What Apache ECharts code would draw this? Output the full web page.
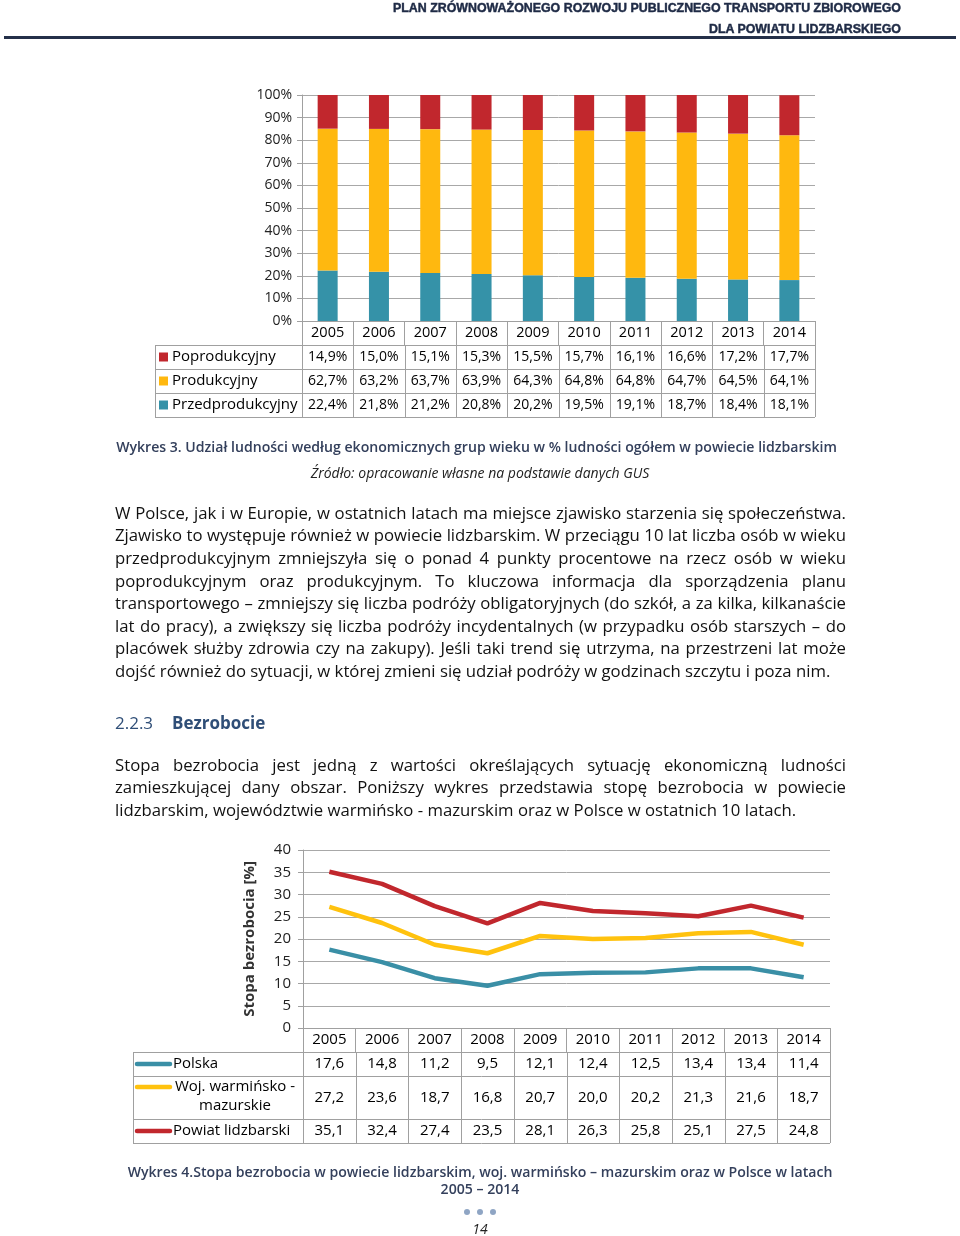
<!DOCTYPE html>
<html><head><meta charset="utf-8">
<script src="https://cdn.jsdelivr.net/npm/echarts@6/dist/echarts.min.js"></script>
<style>
html,body{margin:0;padding:0;background:#fff;}
#page{position:relative;width:960px;height:1236px;overflow:hidden;font-family:"Open Sans","DejaVu Sans",sans-serif;}
#chart{position:absolute;left:0;top:0;width:960px;height:1236px;}
.t{position:absolute;color:#000;white-space:nowrap;}
.j{position:absolute;left:115px;width:731px;text-align:justify;text-align-last:justify;font-size:14.6px;line-height:22.6px;height:22.6px;color:#111;}
.j.l{text-align-last:left;}
.hdr{position:absolute;right:59px;font-family:"Liberation Sans",Arial,sans-serif;font-weight:900;font-size:12.4px;color:#1F2B46;white-space:nowrap;-webkit-text-stroke:0.45px #1F2B46;}
.cap{font-weight:600;font-size:14.1px;color:#34405C;}
</style></head>
<body>
<div id="page">
<div id="chart"></div>
<div class="hdr" style="top:0px;line-height:16px;">PLAN ZRÓWNOWAŻONEGO ROZWOJU PUBLICZNEGO TRANSPORTU ZBIOROWEGO</div>
<div class="hdr" style="top:21px;line-height:16px;">DLA POWIATU LIDZBARSKIEGO</div>
<div style="position:absolute;left:4px;top:36px;width:952px;height:3px;background:#243049;"></div>

<div class="t cap" style="left:115px;width:723px;text-align:center;top:437px;line-height:20px;">Wykres 3. Udział ludności według ekonomicznych grup wieku w % ludności ogółem w powiecie lidzbarskim</div>
<div class="t" style="left:0;width:960px;text-align:center;top:463px;line-height:20px;font-style:italic;font-size:14px;color:#222;">Źródło: opracowanie własne na podstawie danych GUS</div>

<div class="j" style="top:501.7px;">W Polsce, jak i w Europie, w ostatnich latach ma miejsce zjawisko starzenia się społeczeństwa.</div>
<div class="j" style="top:524.3px;">Zjawisko to występuje również w powiecie lidzbarskim. W przeciągu 10 lat liczba osób w wieku</div>
<div class="j" style="top:546.9px;">przedprodukcyjnym zmniejszyła się o ponad 4 punkty procentowe na rzecz osób w wieku</div>
<div class="j" style="top:569.5px;">poprodukcyjnym oraz produkcyjnym. To kluczowa informacja dla sporządzenia planu</div>
<div class="j" style="top:592.1px;">transportowego – zmniejszy się liczba podróży obligatoryjnych (do szkół, a za kilka, kilkanaście</div>
<div class="j" style="top:614.7px;">lat do pracy), a zwiększy się liczba podróży incydentalnych (w przypadku osób starszych – do</div>
<div class="j" style="top:637.3px;">placówek służby zdrowia czy na zakupy). Jeśli taki trend się utrzyma, na przestrzeni lat może</div>
<div class="j l" style="top:659.9px;">dojść również do sytuacji, w której zmieni się udział podróży w godzinach szczytu i poza nim.</div>

<div class="t" style="left:115px;top:711px;line-height:24px;font-size:17px;color:#2F4E77;">2.2.3</div>
<div class="t" style="left:172px;top:711px;line-height:24px;font-size:17px;font-weight:700;color:#2F4E77;">Bezrobocie</div>

<div class="j" style="top:753.7px;">Stopa bezrobocia jest jedną z wartości określających sytuację ekonomiczną ludności</div>
<div class="j" style="top:776.3px;">zamieszkującej dany obszar. Poniższy wykres przedstawia stopę bezrobocia w powiecie</div>
<div class="j l" style="top:798.9px;">lidzbarskim, województwie warmińsko - mazurskim oraz w Polsce w ostatnich 10 latach.</div>

<div class="t cap" style="left:0;width:960px;text-align:center;top:1162px;line-height:20px;">Wykres 4.Stopa bezrobocia w powiecie lidzbarskim, woj. warmińsko – mazurskim oraz w Polsce w latach</div>
<div class="t cap" style="left:0;width:960px;text-align:center;top:1179px;line-height:20px;">2005 – 2014</div>
<div class="t" style="left:0;width:960px;text-align:center;top:1219px;line-height:20px;font-style:italic;font-size:14px;color:#222;">14</div>
</div>

<script>
// ---------- DATA ----------
const years = ['2005','2006','2007','2008','2009','2010','2011','2012','2013','2014'];
// Chart 1 – share of population by economic age group (%)
const poprodukcyjny    = [14.9,15.0,15.1,15.3,15.5,15.7,16.1,16.6,17.2,17.7];
const produkcyjny      = [62.7,63.2,63.7,63.9,64.3,64.8,64.8,64.7,64.5,64.1];
const przedprodukcyjny = [22.4,21.8,21.2,20.8,20.2,19.5,19.1,18.7,18.4,18.1];
// Chart 2 – unemployment rate (%)
const polska = [17.6,14.8,11.2,9.5,12.1,12.4,12.5,13.4,13.4,11.4];
const wojWM  = [27.2,23.6,18.7,16.8,20.7,20.0,20.2,21.3,21.6,18.7];
const powiat = [35.1,32.4,27.4,23.5,28.1,26.3,25.8,25.1,27.5,24.8];
const names1 = ['Poprodukcyjny','Produkcyjny','Przedprodukcyjny'];
const names2 = ['Polska','Woj. warmińsko -\nmazurskie','Powiat lidzbarski'];
const yTitle2 = 'Stopa bezrobocia [%]';

// ---------- text fitting: scale body font so the longest line fills the measure naturally ----------
(function fit(){
  const els = Array.from(document.querySelectorAll('.j'));
  let maxW = 0;
  els.forEach(el => {
    el.style.whiteSpace = 'nowrap';
    el.style.textAlign = 'left';
    el.style.textAlignLast = 'left';
    const r = document.createRange(); r.selectNodeContents(el);
    const w = r.getBoundingClientRect().width;
    if (!el.classList.contains('l')) maxW = Math.max(maxW, w);
  });
  const fs = maxW > 0 ? 14.6 * 729 / maxW : 14.6;
  els.forEach(el => {
    el.style.fontSize = fs + 'px';
    el.style.whiteSpace = '';
    el.style.textAlign = '';
    el.style.textAlignLast = '';
  });
})();

// ---------- CHART ----------
const C = { red:'#C1272D', yellow:'#FFB80F', teal:'#3592A8', lteal:'#3A8FA6', lyellow:'#FFC20E', grid:'#A8A8A8', border:'#A0A0A0' };
const FF = '"Open Sans","DejaVu Sans",sans-serif';
const chart = echarts.init(document.getElementById('chart'), null, {renderer:'canvas'});
const pct = v => v.toFixed(1).replace('.', ',') + '%';
const dec = v => v.toFixed(1).replace('.', ',');

const axisCommon = {
  axisLine:{show:true, lineStyle:{color:C.border, width:1}},
  axisTick:{show:true, length:5, lineStyle:{color:C.border}},
  splitLine:{show:true, lineStyle:{color:C.grid, width:1}},
};

const option = {
  animation:false,
  backgroundColor:'#fff',
  grid:[
    {left:302, top:95, width:513, height:226},
    {left:303, top:850, width:527, height:178}
  ],
  xAxis:[
    {gridIndex:0, type:'category', data:years, boundaryGap:true,
     axisLine:{lineStyle:{color:C.border}},
     axisTick:{show:true, length:24, lineStyle:{color:C.border}},
     axisLabel:{margin:12, verticalAlign:'middle', fontSize:14.5, fontFamily:FF, color:'#000'}},
    {gridIndex:1, type:'category', data:years, boundaryGap:true,
     axisLine:{lineStyle:{color:C.border}},
     axisTick:{show:true, length:24, lineStyle:{color:C.border}},
     axisLabel:{margin:12, verticalAlign:'middle', fontSize:15, fontFamily:FF, color:'#000'}}
  ],
  yAxis:[
    Object.assign({gridIndex:0, type:'value', min:0, max:100, interval:10,
     axisLabel:{formatter:'{value}%', margin:10, fontSize:14, fontFamily:FF, color:'#222'}}, axisCommon),
    Object.assign({gridIndex:1, type:'value', min:0, max:40, interval:5,
     name: yTitle2, nameLocation:'middle', nameGap:46,
     nameTextStyle:{fontSize:15, fontWeight:'bold', fontFamily:FF, color:'#333'},
     axisLabel:{margin:12, fontSize:15, fontFamily:FF, color:'#222'}}, axisCommon)
  ],
  series:[
    {name:names1[2], type:'bar', stack:'a', xAxisIndex:0, yAxisIndex:0, data:przedprodukcyjny, barWidth:20, itemStyle:{color:C.teal}},
    {name:names1[1], type:'bar', stack:'a', xAxisIndex:0, yAxisIndex:0, data:produkcyjny, barWidth:20, itemStyle:{color:C.yellow}},
    {name:names1[0], type:'bar', stack:'a', xAxisIndex:0, yAxisIndex:0, data:poprodukcyjny, barWidth:20, itemStyle:{color:C.red}},
    {name:'Polska', type:'line', xAxisIndex:1, yAxisIndex:1, data:polska, showSymbol:false, lineStyle:{color:C.lteal, width:4.5}, itemStyle:{color:C.lteal}},
    {name:'Woj', type:'line', xAxisIndex:1, yAxisIndex:1, data:wojWM, showSymbol:false, lineStyle:{color:C.lyellow, width:4.5}, itemStyle:{color:C.lyellow}},
    {name:'Powiat', type:'line', xAxisIndex:1, yAxisIndex:1, data:powiat, showSymbol:false, lineStyle:{color:C.red, width:4.5}, itemStyle:{color:C.red}}
  ]
};
chart.setOption(option);

// ---------- data tables below the charts, positioned from the axes ----------
function buildTable(xIdx, yIdx, leftX, headerH, rowHs, rows, fmt, fontSize, legendKind) {
  const els = [];
  const centers = years.map((y, i) => chart.convertToPixel({xAxisIndex:xIdx}, i));
  const bw = centers[1] - centers[0];
  const bounds = centers.map(c => c - bw/2).concat([centers[centers.length-1] + bw/2]);
  const axisY = chart.convertToPixel({yAxisIndex:yIdx}, 0);
  const top = axisY + headerH;
  const rightX = bounds[bounds.length-1];
  const px = v => Math.round(v) + 0.5;
  let y = top;
  const rowTops = [];
  rowHs.forEach(h => { rowTops.push(y); y += h; });
  const bottom = y;
  [top].concat(rowTops.map((t, i) => t + rowHs[i])).forEach(yy => {
    els.push({type:'line', shape:{x1:leftX, y1:px(yy), x2:rightX, y2:px(yy)}, style:{stroke:C.border, lineWidth:1}, silent:true});
  });
  [leftX].concat(bounds).forEach(xx => {
    els.push({type:'line', shape:{x1:px(xx), y1:top, x2:px(xx), y2:bottom}, style:{stroke:C.border, lineWidth:1}, silent:true});
  });
  rows.forEach((row, r) => {
    const cy = rowTops[r] + rowHs[r]/2;
    row.values.forEach((v, i) => {
      els.push({type:'text', x:centers[i], y:cy, silent:true,
        style:{text:fmt(v), align:'center', verticalAlign:'middle', fontSize:fontSize, fontFamily:FF, fill:'#000'}});
    });
    const lines = row.name.split('\n');
    if (legendKind === 'square') {
      els.push({type:'rect', shape:{x:leftX+4, y:cy-4.5, width:9, height:9}, style:{fill:row.color}, silent:true});
      els.push({type:'text', x:leftX+17, y:cy, silent:true,
        style:{text:row.name, align:'left', verticalAlign:'middle', fontSize:15, fontFamily:FF, fill:'#000'}});
    } else {
      const my = lines.length > 1 ? rowTops[r] + 11 : cy;
      els.push({type:'line', shape:{x1:leftX+4, y1:my, x2:leftX+37, y2:my}, style:{stroke:row.color, lineWidth:4.5, lineCap:'round'}, silent:true});
      if (lines.length > 1) {
        const mx = (leftX + 38 + bounds[0]) / 2 - 2;
        els.push({type:'text', x:mx, y:my, silent:true,
          style:{text:lines[0], align:'center', verticalAlign:'middle', fontSize:15, fontFamily:FF, fill:'#000'}});
        els.push({type:'text', x:mx, y:my+19, silent:true,
          style:{text:lines[1], align:'center', verticalAlign:'middle', fontSize:15, fontFamily:FF, fill:'#000'}});
      } else {
        els.push({type:'text', x:leftX+40, y:my, silent:true,
          style:{text:row.name, align:'left', verticalAlign:'middle', fontSize:15, fontFamily:FF, fill:'#000'}});
      }
    }
  });
  return els;
}

const g1 = buildTable(0, 0, 155, 24, [24,24,24], [
  {name:names1[0], values:poprodukcyjny, color:C.red},
  {name:names1[1], values:produkcyjny, color:C.yellow},
  {name:names1[2], values:przedprodukcyjny, color:C.teal}
], pct, 14, 'square');
const g2 = buildTable(1, 1, 133, 24, [24,43,24], [
  {name:names2[0], values:polska, color:C.lteal},
  {name:names2[1], values:wojWM, color:C.lyellow},
  {name:names2[2], values:powiat, color:C.red}
], dec, 15, 'line');
const dots = [467,480,493].map(x => ({type:'circle', shape:{cx:x, cy:1212, r:3}, style:{fill:'#8FA5C4'}, silent:true}));
chart.setOption({graphic: g1.concat(g2, dots)});
</script>
</body></html>
